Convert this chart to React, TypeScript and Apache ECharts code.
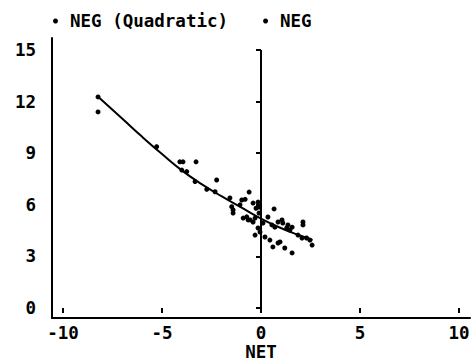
import React, { useEffect, useRef } from "react";
import * as echarts from "echarts";

// Scatter points (NET, NEG)
const netValues = [
  -8.23, -8.23, -5.27, -4.1, -3.94, -3.28, -4.0, -3.75, -3.33, -2.24, -2.74, -2.32,
  -1.57, -0.6, -0.97, -0.8, -1.48, -1.41, -1.41, -0.4, -0.25, -0.15, -0.1, -0.1,
  -0.9, -0.65, -0.4, 0.35, 0.66, -0.15, -0.05, -0.3, 0.2, 0.45, 0.6, 0.86,
  0.96, 1.2, 1.57, 0.55, 0.7, 1.06, 1.1, 1.36, 1.57, 1.46, 2.12, 2.12,
  1.87, 2.07, 2.3, 2.47, 2.58, -1.06, -0.72, -0.55, 0.1, 0.86, 1.3, -0.3
];
const negValues = [
  12.27, 11.4, 9.38, 8.5, 8.5, 8.5, 8.02, 7.93, 7.35, 7.44, 6.9, 6.76,
  6.4, 6.74, 6.28, 6.32, 5.89, 5.7, 5.52, 6.1, 5.8, 6.16, 5.87, 5.52,
  5.23, 5.12, 5.0, 5.29, 5.76, 4.65, 4.42, 4.24, 4.13, 3.95, 3.55, 3.78,
  3.84, 3.49, 3.2, 4.83, 4.7, 5.12, 4.94, 4.83, 4.7, 4.53, 5.0, 4.83,
  4.24, 4.07, 4.07, 3.95, 3.66, 6.0, 5.3, 5.12, 4.94, 5.0, 4.65, 5.23
];

// Quadratic fit curve
const fitNet = [-8.2, -7, -6, -5, -4, -3, -2, -1, 0, 1, 2, 2.6];
const fitNeg = [12.25, 11.0, 9.95, 8.95, 8.0, 7.2, 6.5, 5.85, 5.2, 4.65, 4.2, 3.95];

// Vertical reference line at NET = 0
const refNet = [0, 0];
const refNeg = [0, 15];

// Axis ranges and tick steps
const xMin = -10, xMax = 10, xStep = 5;
const yMin = 0, yMax = 15, yStep = 3;

const FONT = "DejaVu Sans Mono";

export default function App() {
  const ref = useRef<HTMLDivElement>(null);
  useEffect(() => {
    if (!ref.current) return;
    const chart = echarts.init(ref.current, null, { renderer: "svg" });
    const textStyle = { fontFamily: FONT, fontWeight: "bold" as const, fontSize: 17.5, color: "#000" };
    const tick = { show: true, length: 5, lineStyle: { color: "#000", width: 2 } };
    chart.setOption({
      animation: false,
      backgroundColor: "#fff",
      legend: {
        data: ["NEG (Quadratic)", "NEG"],
        left: 53,
        top: 12,
        icon: "circle",
        itemWidth: 5,
        itemHeight: 5,
        itemGap: 35,
        padding: 0,
        textStyle: { ...textStyle, padding: [0, 0, 0, 7] },
        selectedMode: false,
      },
      grid: [
        { left: 63, right: 14, top: 50, bottom: 54, outerBoundsMode: "none" },
        { left: 52, right: 3, top: 38, bottom: 44, outerBoundsMode: "none" },
      ],
      xAxis: [
        {
          type: "value",
          gridIndex: 0,
          min: xMin,
          max: xMax,
          interval: xStep,
          offset: 10,
          name: "NET",
          nameLocation: "middle",
          nameGap: 28,
          nameMoveOverlap: false,
          nameTextStyle: { ...textStyle, lineHeight: 12 },
          splitLine: { show: false },
          axisLine: { show: false },
          axisTick: tick,
          axisLabel: { ...textStyle, lineHeight: 12, margin: 9 },
        },
        {
          type: "value",
          gridIndex: 1,
          min: 0,
          max: 1,
          splitLine: { show: false },
          axisLine: { show: true, lineStyle: { color: "#000", width: 2 } },
          axisTick: { show: false },
          axisLabel: { show: false },
        },
      ],
      yAxis: [
        {
          type: "value",
          gridIndex: 0,
          min: yMin,
          max: yMax,
          interval: yStep,
          offset: 11,
          splitLine: { show: false },
          axisLine: { show: false },
          axisTick: tick,
          axisLabel: { ...textStyle, margin: 16 },
        },
        {
          type: "value",
          gridIndex: 1,
          min: 0,
          max: 1,
          splitLine: { show: false },
          axisLine: { show: true, lineStyle: { color: "#000", width: 2 } },
          axisTick: { show: false },
          axisLabel: { show: false },
        },
      ],
      series: [
        {
          name: "NEG (Quadratic)",
          type: "line",
          xAxisIndex: 0,
          yAxisIndex: 0,
          data: fitNet.map((x, i) => [x, fitNeg[i]]),
          showSymbol: false,
          smooth: true,
          itemStyle: { color: "#000" },
          lineStyle: { color: "#000", width: 2 },
        },
        {
          name: "NEG",
          type: "scatter",
          xAxisIndex: 0,
          yAxisIndex: 0,
          data: netValues.map((x, i) => [x, negValues[i]]),
          symbol: "circle",
          symbolSize: 5,
          itemStyle: { color: "#000", opacity: 1 },
        },
        {
          name: "ref",
          type: "line",
          xAxisIndex: 0,
          yAxisIndex: 0,
          data: refNet.map((x, i) => [x, refNeg[i]]),
          showSymbol: false,
          lineStyle: { color: "#000", width: 2 },
          itemStyle: { color: "#000" },
        },
      ],
    });
    return () => chart.dispose();
  }, []);
  return (
    <div
      ref={ref}
      style={{ position: "fixed", left: 0, top: 0, width: 473, height: 362, background: "#fff" }}
    />
  );
}
